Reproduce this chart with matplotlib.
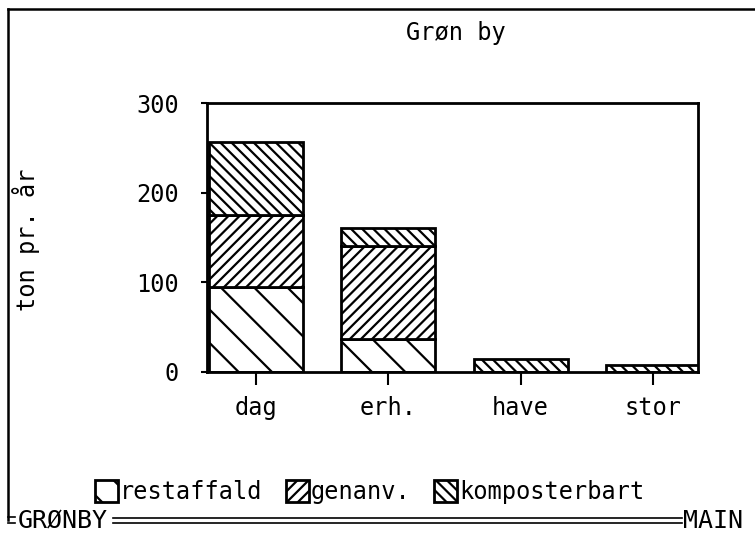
import matplotlib
matplotlib.use("Agg")
import matplotlib.pyplot as plt
import numpy as np
from matplotlib.lines import Line2D

plt.rcParams['font.family'] = ['DejaVu Sans Mono']
plt.rcParams['hatch.linewidth'] = 1.6
plt.rcParams['hatch.color'] = 'black'

categories = ["dag", "erh.", "have", "stor"]
series_names = ["restaffald", "genanv.", "komposterbart"]
restaffald = [95, 37, 0, 0]
genanv = [80, 104, 0, 0]
komposterbart = [81, 20, 15, 8]
hatches = ['\\', '///', '\\\\\\']
yticks = [0, 100, 200, 300]

FS = 17

fig = plt.figure(figsize=(7.55, 5.36), dpi=100)
ax = fig.add_axes([0.2742, 0.306, 0.6503, 0.5018])

x = np.arange(len(categories))
bottom = np.zeros(len(categories))
handles = []
for vals, name, h in zip([restaffald, genanv, komposterbart], series_names, hatches):
    bars = ax.bar(x, vals, width=0.71, bottom=bottom, color='white',
                  edgecolor='black', linewidth=2.0, hatch=h, label=name)
    bottom += np.array(vals)
    handles.append(bars)

ax.set_xlim(-0.37, 3.34)
ax.set_ylim(0, 300)
ax.set_yticks(yticks)
ax.set_xticks(x)
ax.set_xticklabels(categories, fontsize=FS)
ax.tick_params(axis='y', direction='out', length=4, width=1.5, pad=16, labelsize=FS)
ax.tick_params(axis='x', direction='out', length=9, width=1.5, pad=8, labelsize=FS)
for s in ax.spines.values():
    s.set_linewidth(2.0)

fig.text(0.604, 0.938, "Grøn by", ha='center', va='center', fontsize=FS)
fig.text(0.034, 0.552, "ton pr. år", ha='center', va='center', rotation=90, fontsize=FS)

fig.legend(handles=handles, labels=series_names, loc='center',
           bbox_to_anchor=(0.49, 0.082), ncol=3, frameon=False, fontsize=FS,
           handlelength=0.95, handleheight=1.0, handletextpad=0.1,
           columnspacing=1.0, borderaxespad=0)

# outer window frame
fig.add_artist(Line2D([0.0106, 1.0], [0.983, 0.983], color='black', lw=1.8))
fig.add_artist(Line2D([0.0106, 0.0106], [0.983, 0.03], color='black', lw=1.8))
fig.add_artist(Line2D([0.0106, 0.02], [0.036, 0.036], color='black', lw=1.2))
fig.add_artist(Line2D([0.0106, 0.02], [0.024, 0.024], color='black', lw=1.2))
fig.add_artist(Line2D([0.15, 0.903], [0.033, 0.033], color='black', lw=1.2))
fig.add_artist(Line2D([0.15, 0.903], [0.024, 0.024], color='black', lw=1.2))
fig.text(0.024, 0.028, "GRØNBY", ha='left', va='center', fontsize=18)
fig.text(0.904, 0.028, "MAIN", ha='left', va='center', fontsize=18)

fig.savefig("out.png", dpi=100, facecolor='white')
